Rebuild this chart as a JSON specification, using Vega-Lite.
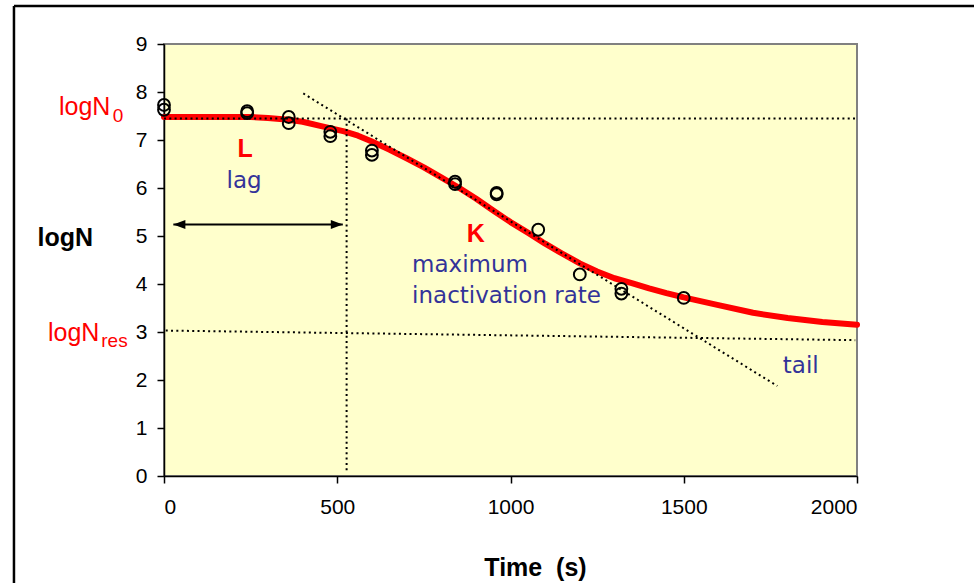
{
  "$schema": "https://vega.github.io/schema/vega-lite/v6.json",
  "width": 693,
  "height": 432,
  "autosize": {"type": "none"},
  "padding": {"left": 164, "top": 44, "right": 117, "bottom": 107},
  "background": "white",
  "config": {
    "view": {"fill": "#FFFFCC", "stroke": "#808080", "strokeWidth": 2},
    "axis": {
      "labelFont": "Liberation Sans", "labelFontSize": 21, "labelColor": "black",
      "titleFont": "Liberation Sans", "titleFontSize": 25, "titleFontWeight": "bold", "titleColor": "black",
      "domainColor": "black", "domainWidth": 1.5, "tickColor": "black", "tickWidth": 1.5, "tickSize": 7, "grid": false
    }
  },
  "datasets": {
    "frame": [
      {"t": -433, "v": -3, "t2": -433, "v2": 9.79},
      {"t": -433, "v": 9.79, "t2": 2700, "v2": 9.79}
    ],
    "curve": [
      {"t": 0, "v": 7.48}, {"t": 250, "v": 7.48}, {"t": 300, "v": 7.46}, {"t": 360, "v": 7.42},
      {"t": 400, "v": 7.38}, {"t": 460, "v": 7.28}, {"t": 520, "v": 7.18}, {"t": 560, "v": 7.09},
      {"t": 600, "v": 6.97}, {"t": 650, "v": 6.8}, {"t": 700, "v": 6.62}, {"t": 750, "v": 6.43},
      {"t": 800, "v": 6.22}, {"t": 850, "v": 6.01}, {"t": 900, "v": 5.78}, {"t": 950, "v": 5.53},
      {"t": 1000, "v": 5.29}, {"t": 1050, "v": 5.07}, {"t": 1100, "v": 4.84}, {"t": 1150, "v": 4.63},
      {"t": 1200, "v": 4.43}, {"t": 1250, "v": 4.26}, {"t": 1300, "v": 4.12}, {"t": 1350, "v": 4.02},
      {"t": 1400, "v": 3.91}, {"t": 1450, "v": 3.81}, {"t": 1500, "v": 3.72}, {"t": 1600, "v": 3.56},
      {"t": 1700, "v": 3.4}, {"t": 1800, "v": 3.29}, {"t": 1900, "v": 3.21}, {"t": 2000, "v": 3.15}
    ],
    "guides": [
      {"t": 0, "v": 7.45, "t2": 2000, "v2": 7.45},
      {"t": 527, "v": 7.45, "t2": 527, "v2": 0.09},
      {"t": 402, "v": 7.97, "t2": 1770, "v2": 1.875},
      {"t": 5, "v": 3.03, "t2": 1995, "v2": 2.83}
    ],
    "obs": [
      {"t": 0, "v": 7.73}, {"t": 0, "v": 7.63},
      {"t": 240, "v": 7.6}, {"t": 240, "v": 7.56},
      {"t": 360, "v": 7.48}, {"t": 360, "v": 7.35},
      {"t": 480, "v": 7.17}, {"t": 480, "v": 7.08},
      {"t": 600, "v": 6.78}, {"t": 600, "v": 6.69},
      {"t": 840, "v": 6.13}, {"t": 840, "v": 6.08},
      {"t": 960, "v": 5.9}, {"t": 960, "v": 5.87},
      {"t": 1080, "v": 5.13},
      {"t": 1200, "v": 4.2},
      {"t": 1320, "v": 3.9}, {"t": 1320, "v": 3.8},
      {"t": 1500, "v": 3.71}
    ],
    "arrow": [
      {"t": 27, "v": 5.24, "t2": 516, "v2": 5.24}
    ],
    "heads": [
      {"t": 27, "v": 5.24, "dir": "left"},
      {"t": 516, "v": 5.24, "dir": "right"}
    ],
    "ann": [
      {"label": "logN", "t": -303, "v": 7.52, "g": "redbig"},
      {"label": "0", "t": -148, "v": 7.375, "g": "redsub"},
      {"label": "logN", "t": -335, "v": 2.82, "g": "redbig"},
      {"label": "res", "t": -181, "v": 2.69, "g": "redsub"},
      {"label": "L", "t": 234, "v": 6.646, "g": "redbold"},
      {"label": "K", "t": 900, "v": 4.875, "g": "redbold"},
      {"label": "lag", "t": 231, "v": 6.0, "g": "navyc"},
      {"label": "maximum", "t": 716, "v": 4.256, "g": "navyl"},
      {"label": "inactivation rate", "t": 716, "v": 3.604, "g": "navyl"},
      {"label": "tail", "t": 1786, "v": 2.146, "g": "navyl"}
    ]
  },
  "layer": [
    {
      "data": {"name": "frame"},
      "mark": {"type": "rule", "color": "black", "strokeWidth": 2.5},
      "encoding": {
        "x": {"field": "t", "type": "quantitative", "scale": {"domain": [0, 2000], "nice": false, "zero": false},
              "axis": {"values": [0, 500, 1000, 1500, 2000], "format": "d", "title": "Time\u00a0\u00a0(s)", "labelPadding": 13,
                       "titleX": 371, "titleY": 99, "titleBaseline": "alphabetic", "titleAlign": "center"}},
        "y": {"field": "v", "type": "quantitative", "scale": {"domain": [0, 9], "nice": false, "zero": false},
              "axis": {"values": [0, 1, 2, 3, 4, 5, 6, 7, 8, 9], "format": "d", "title": "logN", "titleAngle": 0, "labelPadding": 10,
                       "titleX": -127, "titleY": 201, "titleAlign": "left", "titleBaseline": "alphabetic"}},
        "x2": {"field": "t2"},
        "y2": {"field": "v2"}
      }
    },
    {
      "data": {"name": "curve"},
      "mark": {"type": "line", "color": "#FF0000", "strokeWidth": 6, "strokeCap": "round", "strokeJoin": "round"},
      "encoding": {
        "x": {"field": "t", "type": "quantitative"},
        "y": {"field": "v", "type": "quantitative"}
      }
    },
    {
      "data": {"name": "guides"},
      "mark": {"type": "rule", "color": "black", "strokeWidth": 2, "strokeDash": [2, 3.3]},
      "encoding": {
        "x": {"field": "t", "type": "quantitative"},
        "y": {"field": "v", "type": "quantitative"},
        "x2": {"field": "t2"},
        "y2": {"field": "v2"}
      }
    },
    {
      "data": {"name": "obs"},
      "mark": {"type": "point", "shape": "circle", "filled": false, "stroke": "black", "strokeWidth": 2, "size": 140, "opacity": 1},
      "encoding": {
        "x": {"field": "t", "type": "quantitative"},
        "y": {"field": "v", "type": "quantitative"}
      }
    },
    {
      "data": {"name": "arrow"},
      "mark": {"type": "rule", "color": "black", "strokeWidth": 2},
      "encoding": {
        "x": {"field": "t", "type": "quantitative"},
        "y": {"field": "v", "type": "quantitative"},
        "x2": {"field": "t2"},
        "y2": {"field": "v2"}
      }
    },
    {
      "data": {"name": "heads"},
      "transform": [{"filter": "datum.dir === 'right'"}],
      "mark": {"type": "point", "shape": "M0,0L-4,-1.5L-4,1.5Z", "filled": true, "color": "black", "size": 36, "opacity": 1},
      "encoding": {
        "x": {"field": "t", "type": "quantitative"},
        "y": {"field": "v", "type": "quantitative"}
      }
    },
    {
      "data": {"name": "heads"},
      "transform": [{"filter": "datum.dir === 'left'"}],
      "mark": {"type": "point", "shape": "M0,0L4,-1.5L4,1.5Z", "filled": true, "color": "black", "size": 36, "opacity": 1},
      "encoding": {
        "x": {"field": "t", "type": "quantitative"},
        "y": {"field": "v", "type": "quantitative"}
      }
    },
    {
      "data": {"name": "ann"},
      "transform": [{"filter": "datum.g === 'redbig'"}],
      "mark": {"type": "text", "font": "Liberation Sans", "fontSize": 25, "color": "#FF0000", "align": "left", "baseline": "alphabetic"},
      "encoding": {
        "x": {"field": "t", "type": "quantitative"},
        "y": {"field": "v", "type": "quantitative"},
        "text": {"field": "label"}
      }
    },
    {
      "data": {"name": "ann"},
      "transform": [{"filter": "datum.g === 'redsub'"}],
      "mark": {"type": "text", "font": "Liberation Sans", "fontSize": 19, "color": "#FF0000", "align": "left", "baseline": "alphabetic"},
      "encoding": {
        "x": {"field": "t", "type": "quantitative"},
        "y": {"field": "v", "type": "quantitative"},
        "text": {"field": "label"}
      }
    },
    {
      "data": {"name": "ann"},
      "transform": [{"filter": "datum.g === 'redbold'"}],
      "mark": {"type": "text", "font": "Liberation Sans", "fontSize": 25, "fontWeight": "bold", "color": "#FF0000", "align": "center", "baseline": "alphabetic"},
      "encoding": {
        "x": {"field": "t", "type": "quantitative"},
        "y": {"field": "v", "type": "quantitative"},
        "text": {"field": "label"}
      }
    },
    {
      "data": {"name": "ann"},
      "transform": [{"filter": "datum.g === 'navyc'"}],
      "mark": {"type": "text", "font": "DejaVu Sans", "fontSize": 23, "color": "#333399", "align": "center", "baseline": "alphabetic"},
      "encoding": {
        "x": {"field": "t", "type": "quantitative"},
        "y": {"field": "v", "type": "quantitative"},
        "text": {"field": "label"}
      }
    },
    {
      "data": {"name": "ann"},
      "transform": [{"filter": "datum.g === 'navyl'"}],
      "mark": {"type": "text", "font": "DejaVu Sans", "fontSize": 23, "color": "#333399", "align": "left", "baseline": "alphabetic"},
      "encoding": {
        "x": {"field": "t", "type": "quantitative"},
        "y": {"field": "v", "type": "quantitative"},
        "text": {"field": "label"}
      }
    }
  ]
}
